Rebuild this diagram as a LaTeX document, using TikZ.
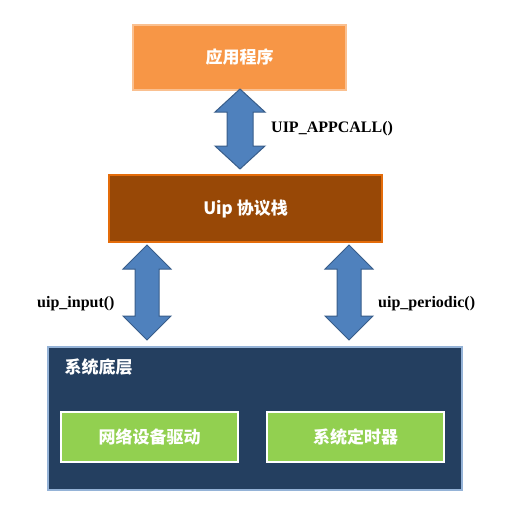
\documentclass[tikz,border=0pt]{standalone}
\usepackage{fontspec}
\setmainfont{Liberation Serif}
\newfontfamily\cjk{Noto Sans CJK SC}
\usetikzlibrary{calc}
\definecolor{appfill}{HTML}{F79646}
\definecolor{appedge}{HTML}{FAC090}
\definecolor{uipfill}{HTML}{984806}
\definecolor{uipedge}{HTML}{E46C0A}
\definecolor{sysfill}{HTML}{243F60}
\definecolor{sysedge}{HTML}{95B3D7}
\definecolor{greenfill}{HTML}{92D050}
\definecolor{arrfill}{HTML}{4F81BD}
\definecolor{arredge}{HTML}{385D8A}
\tikzset{
  box/.style={draw, line width=2pt, inner sep=0pt, outer sep=0pt},
  cjktext/.style={font=\cjk\bfseries\fontsize{17}{20}\selectfont, text=white},
  lbl/.style={font=\bfseries\fontsize{16}{19}\selectfont, inner sep=0pt},
  fatarrow/.style={fill=arrfill, draw=arredge, line width=1pt, line join=miter},
}
% #1 top coordinate, #2 bottom coordinate, #3 half head width, #4 half shaft width, #5 head length
\newcommand\fatdarrow[5]{%
  \draw[fatarrow] let \p1=(#1), \p2=(#2) in
    (\x1,\y1) -- (\x1+#3,\y1-#5) -- (\x1+#4,\y1-#5) -- (\x1+#4,\y2+#5) -- (\x1+#3,\y2+#5)
    -- (\x1,\y2) -- (\x1-#3,\y2+#5) -- (\x1-#4,\y2+#5) -- (\x1-#4,\y1-#5) -- (\x1-#3,\y1-#5) -- cycle;}
\begin{document}
\begin{tikzpicture}[x=1pt,y=-1pt]
\useasboundingbox (0,0) rectangle (524,519);
% top box
\draw[box, fill=appfill, draw=appedge] (133,25) rectangle (346,90);
\node[cjktext] (app) at (239.5,57.5) {应用程序};
% uip box
\draw[box, fill=uipfill, draw=uipedge] (109,175) rectangle (382,242);
\node[cjktext] (uip) at (245.5,209) {Uip 协议栈};
% bottom system box
\draw[box, line width=2.5pt, fill=sysfill, draw=sysedge] (48,347) rectangle (462,490);
\node[cjktext, anchor=west] (sys) at (61,367) {系统底层};
% green boxes
\draw[box, fill=greenfill, draw=white] (61,412) rectangle (238,462);
\node[cjktext] (net) at (149.5,437) {网络设备驱动};
\draw[box, fill=greenfill, draw=white] (267,412) rectangle (444,462);
\node[cjktext] (tmr) at (355.5,437) {系统定时器};
% arrow anchor coordinates
\coordinate (a1t) at (240,89);
\coordinate (a1b) at (240,169);
\coordinate (a2t) at (147,245);
\coordinate (a2b) at (147,340);
\coordinate (a3t) at (349,245);
\coordinate (a3b) at (349,340);
\fatdarrow{a1t}{a1b}{25pt}{13pt}{23pt}
\fatdarrow{a2t}{a2b}{24pt}{12pt}{24pt}
\fatdarrow{a3t}{a3b}{24pt}{12pt}{24pt}
% labels
\node[lbl, anchor=west] (l1) at (271,129) {UIP\_APPCALL()};
\node[lbl, anchor=west] (l2) at (37,304) {uip\_input()};
\node[lbl, anchor=west] (l3) at (378,304) {uip\_periodic()};
\end{tikzpicture}
\end{document}
